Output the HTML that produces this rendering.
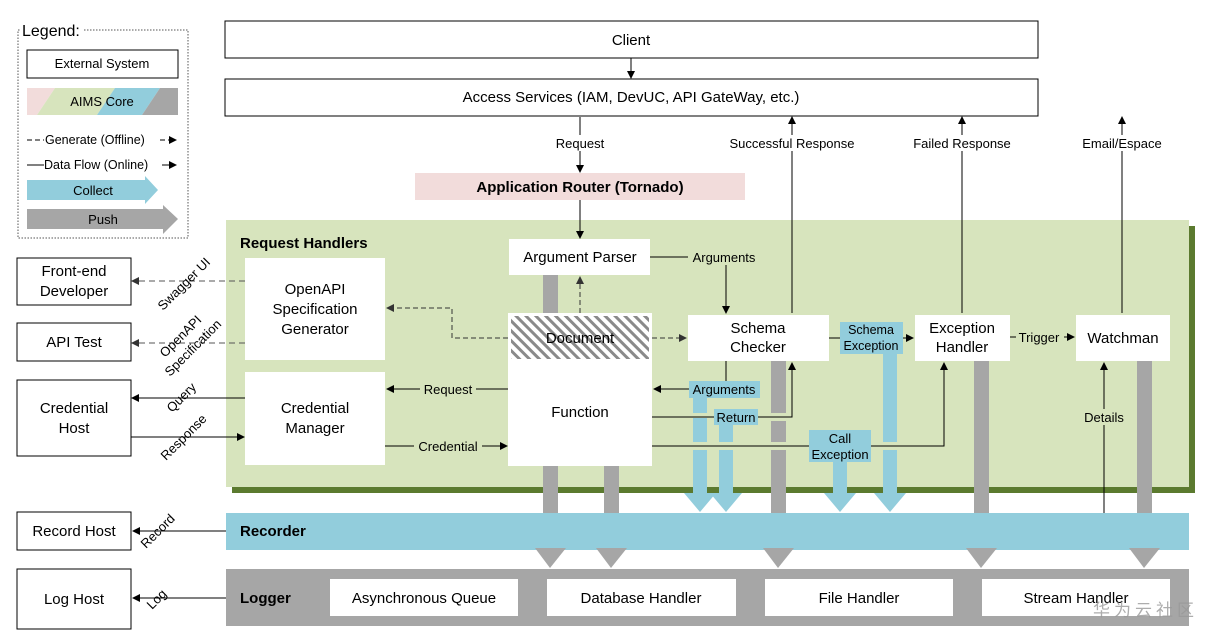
<!DOCTYPE html>
<html><head><meta charset="utf-8"><style>
html,body{margin:0;padding:0;background:#fff;}
svg{display:block;font-family:"Liberation Sans","Noto Sans CJK SC",sans-serif;}
</style></head><body>
<svg width="1213" height="635" viewBox="0 0 1213 635" xmlns="http://www.w3.org/2000/svg">
<defs>
<marker id="ah" markerWidth="8" markerHeight="8" refX="7" refY="4" orient="auto" markerUnits="userSpaceOnUse"><path d="M0,0 L8,4 L0,8 z" fill="#000"/></marker>
<marker id="ahg" markerWidth="8" markerHeight="8" refX="7" refY="4" orient="auto" markerUnits="userSpaceOnUse"><path d="M0,0 L8,4 L0,8 z" fill="#333"/></marker>
<pattern id="hatch" width="7" height="7" patternUnits="userSpaceOnUse" patternTransform="rotate(-45)"><rect width="7" height="7" fill="#fff"/><rect width="3" height="7" fill="#8a8a8a"/></pattern>
</defs>
<g font-size="14" fill="#000">
<!-- legend -->
<rect x="18" y="30" width="170" height="208" fill="none" stroke="#555" stroke-dasharray="1.5,1.5"/>
<rect x="20" y="22" width="64" height="16" fill="#fff"/>
<text x="22" y="36" font-size="16">Legend:</text>
<rect x="27" y="50" width="151" height="28" fill="#fff" stroke="#000"/>
<text x="102" y="68" text-anchor="middle" font-size="13">External System</text>
<polygon points="27,88 55,88 37,115 27,115" fill="#f2dcdb"/>
<polygon points="55,88 115,88 97,115 37,115" fill="#d7e4bd"/>
<polygon points="115,88 160,88 142,115 97,115" fill="#92cddc"/>
<polygon points="160,88 178,88 178,115 142,115" fill="#a6a6a6"/>
<text x="102" y="106" text-anchor="middle" font-size="13">AIMS Core</text>
<line x1="27" y1="140" x2="44" y2="140" stroke="#000" stroke-dasharray="5,3"/>
<text x="45" y="144" font-size="12.5">Generate (Offline)</text>
<line x1="160" y1="140" x2="176" y2="140" stroke="#000" stroke-dasharray="5,3" marker-end="url(#ah)"/>
<line x1="27" y1="165" x2="44" y2="165" stroke="#000"/>
<text x="44" y="169" font-size="12.5">Data Flow (Online)</text>
<line x1="162" y1="165" x2="176" y2="165" stroke="#000" marker-end="url(#ah)"/>
<polygon points="27,180 145,180 145,176 158,190 145,204 145,200 27,200" fill="#92cddc"/>
<text x="93" y="195" text-anchor="middle" font-size="13">Collect</text>
<polygon points="27,209 163,209 163,205 178,219 163,234 163,229 27,229" fill="#a6a6a6"/>
<text x="103" y="224" text-anchor="middle" font-size="13">Push</text>

<!-- top -->
<rect x="225" y="21" width="813" height="37" fill="#fff" stroke="#000"/>
<text x="631" y="45" text-anchor="middle" font-size="15">Client</text>
<line x1="631" y1="58" x2="631" y2="78" stroke="#000" marker-end="url(#ah)"/>
<rect x="225" y="79" width="813" height="37" fill="#fff" stroke="#000"/>
<text x="631" y="102" text-anchor="middle" font-size="15">Access Services (IAM, DevUC, API GateWay, etc.)</text>
<line x1="580" y1="117" x2="580" y2="172" stroke="#000" marker-end="url(#ah)"/>
<rect x="555" y="135" width="50" height="16" fill="#fff"/>
<text x="580" y="148" text-anchor="middle" font-size="13">Request</text>

<!-- green panel -->
<rect x="232" y="226" width="963" height="267" fill="#5b7a2f"/>
<rect x="226" y="220" width="963" height="267" fill="#d7e4bd"/>
<text x="240" y="248" font-size="15" font-weight="bold">Request Handlers</text>

<line x1="792" y1="313" x2="792" y2="117" stroke="#000" marker-end="url(#ah)"/>
<line x1="962" y1="313" x2="962" y2="117" stroke="#000" marker-end="url(#ah)"/>
<line x1="1122" y1="313" x2="1122" y2="117" stroke="#000" marker-end="url(#ah)"/>
<rect x="722" y="135" width="140" height="16" fill="#fff"/>
<text x="792" y="148" text-anchor="middle" font-size="13">Successful Response</text>
<rect x="908" y="135" width="108" height="16" fill="#fff"/>
<text x="962" y="148" text-anchor="middle" font-size="13">Failed Response</text>
<rect x="1078" y="135" width="90" height="16" fill="#fff"/>
<text x="1122" y="148" text-anchor="middle" font-size="13">Email/Espace</text>

<rect x="415" y="173" width="330" height="27" fill="#f2dcdb"/>
<text x="580" y="192" text-anchor="middle" font-size="15" font-weight="bold">Application Router (Tornado)</text>
<line x1="580" y1="200" x2="580" y2="238" stroke="#000" marker-end="url(#ah)"/>

<!-- gray push bars -->
<g fill="#a6a6a6">
<rect x="543" y="275" width="15" height="275"/>
<rect x="604" y="466" width="15" height="84"/>
<rect x="771" y="361" width="15" height="189"/>
<rect x="974" y="361" width="15" height="189"/>
<rect x="1137" y="361" width="15" height="189"/>
</g>
<!-- blue collect bars -->
<g fill="#92cddc">
<rect x="693" y="395" width="14" height="100"/><polygon points="684,493 716,493 700,512"/>
<rect x="719" y="420" width="14" height="75"/><polygon points="710,493 742,493 726,512"/>
<rect x="833" y="455" width="14" height="40"/><polygon points="824,493 856,493 840,512"/>
<rect x="883" y="350" width="14" height="145"/><polygon points="874,493 906,493 890,512"/>
</g>
<g fill="#d7e4bd">
<rect x="693" y="413" width="14" height="5"/>
<rect x="693" y="442" width="14" height="8"/>
<rect x="719" y="442" width="14" height="8"/>
<rect x="771" y="413" width="15" height="8"/>
<rect x="771" y="442" width="15" height="8"/>
<rect x="883" y="442" width="14" height="8"/>
</g>

<!-- boxes -->
<rect x="509" y="239" width="141" height="36" fill="#fff"/>
<text x="580" y="262" text-anchor="middle" font-size="15">Argument Parser</text>
<rect x="245" y="258" width="140" height="102" fill="#fff"/>
<text x="315" y="294" text-anchor="middle" font-size="15">OpenAPI</text>
<text x="315" y="314" text-anchor="middle" font-size="15">Specification</text>
<text x="315" y="334" text-anchor="middle" font-size="15">Generator</text>
<rect x="245" y="372" width="140" height="93" fill="#fff"/>
<text x="315" y="413" text-anchor="middle" font-size="15">Credential</text>
<text x="315" y="433" text-anchor="middle" font-size="15">Manager</text>
<rect x="508" y="313" width="144" height="153" fill="#fff"/>
<rect x="511" y="316" width="138" height="43" fill="url(#hatch)"/>
<text x="580" y="343" text-anchor="middle" font-size="15">Document</text>
<text x="580" y="417" text-anchor="middle" font-size="15">Function</text>
<rect x="688" y="315" width="141" height="46" fill="#fff"/>
<text x="758" y="333" text-anchor="middle" font-size="15">Schema</text>
<text x="758" y="352" text-anchor="middle" font-size="15">Checker</text>
<rect x="915" y="315" width="95" height="46" fill="#fff"/>
<text x="962" y="333" text-anchor="middle" font-size="15">Exception</text>
<text x="962" y="352" text-anchor="middle" font-size="15">Handler</text>
<rect x="1076" y="315" width="94" height="46" fill="#fff"/>
<text x="1123" y="343" text-anchor="middle" font-size="15">Watchman</text>

<!-- connectors -->
<polyline points="650,257 726,257 726,313" fill="none" stroke="#000" marker-end="url(#ah)"/>
<rect x="688" y="249" width="72" height="16" fill="#d7e4bd"/>
<text x="724" y="262" text-anchor="middle" font-size="13">Arguments</text>
<line x1="580" y1="313" x2="580" y2="277" stroke="#333" stroke-dasharray="5,3" marker-end="url(#ahg)"/>
<line x1="652" y1="338" x2="686" y2="338" stroke="#333" stroke-dasharray="5,3" marker-end="url(#ahg)"/>
<polyline points="508,338 452,338 452,308 387,308" fill="none" stroke="#333" stroke-dasharray="5,3" marker-end="url(#ahg)"/>
<line x1="245" y1="281" x2="132" y2="281" stroke="#555" stroke-dasharray="6,4" marker-end="url(#ahg)"/>
<line x1="245" y1="343" x2="132" y2="343" stroke="#555" stroke-dasharray="6,4" marker-end="url(#ahg)"/>
<line x1="508" y1="389" x2="387" y2="389" stroke="#000" marker-end="url(#ah)"/>
<rect x="420" y="381" width="56" height="16" fill="#d7e4bd"/>
<text x="448" y="394" text-anchor="middle" font-size="13">Request</text>
<line x1="385" y1="446" x2="507" y2="446" stroke="#000" marker-end="url(#ah)"/>
<rect x="414" y="438" width="68" height="16" fill="#d7e4bd"/>
<text x="448" y="451" text-anchor="middle" font-size="13">Credential</text>
<line x1="245" y1="398" x2="132" y2="398" stroke="#000" marker-end="url(#ah)"/>
<line x1="131" y1="437" x2="244" y2="437" stroke="#000" marker-end="url(#ah)"/>

<polyline points="726,361 726,389 654,389" fill="none" stroke="#000" marker-end="url(#ah)"/>
<rect x="689" y="381" width="71" height="17" fill="#92cddc"/>
<text x="724" y="394" text-anchor="middle" font-size="13">Arguments</text>
<polyline points="652,417 792,417 792,363" fill="none" stroke="#000" marker-end="url(#ah)"/>
<rect x="714" y="409" width="44" height="16" fill="#92cddc"/>
<text x="736" y="422" text-anchor="middle" font-size="13">Return</text>
<polyline points="652,446 944,446 944,363" fill="none" stroke="#000" marker-end="url(#ah)"/>
<rect x="809" y="430" width="62" height="32" fill="#92cddc"/>
<text x="840" y="443" text-anchor="middle" font-size="13">Call</text>
<text x="840" y="459" text-anchor="middle" font-size="13">Exception</text>
<line x1="829" y1="338" x2="913" y2="338" stroke="#000" marker-end="url(#ah)"/>
<rect x="840" y="322" width="63" height="32" fill="#92cddc"/>
<text x="871" y="334" text-anchor="middle" font-size="12.5">Schema</text>
<text x="871" y="350" text-anchor="middle" font-size="12.5">Exception</text>
<line x1="1010" y1="337" x2="1074" y2="337" stroke="#000" marker-end="url(#ah)"/>
<rect x="1016" y="329" width="48" height="16" fill="#d7e4bd"/>
<text x="1039" y="342" text-anchor="middle" font-size="13">Trigger</text>
<line x1="1104" y1="513" x2="1104" y2="363" stroke="#000" marker-end="url(#ah)"/>
<rect x="1080" y="409" width="50" height="16" fill="#d7e4bd"/>
<text x="1104" y="422" text-anchor="middle" font-size="13">Details</text>

<!-- external hosts -->
<rect x="17" y="258" width="114" height="47" fill="#fff" stroke="#000"/>
<text x="74" y="276" text-anchor="middle" font-size="15">Front-end</text>
<text x="74" y="296" text-anchor="middle" font-size="15">Developer</text>
<rect x="17" y="323" width="114" height="38" fill="#fff" stroke="#000"/>
<text x="74" y="347" text-anchor="middle" font-size="15">API Test</text>
<rect x="17" y="380" width="114" height="76" fill="#fff" stroke="#000"/>
<text x="74" y="413" text-anchor="middle" font-size="15">Credential</text>
<text x="74" y="433" text-anchor="middle" font-size="15">Host</text>
<rect x="17" y="512" width="114" height="38" fill="#fff" stroke="#000"/>
<text x="74" y="536" text-anchor="middle" font-size="15">Record Host</text>
<rect x="17" y="569" width="114" height="60" fill="#fff" stroke="#000"/>
<text x="74" y="604" text-anchor="middle" font-size="15">Log Host</text>

<!-- rotated labels -->
<g font-size="13">
<text transform="translate(163,311) rotate(-45)">Swagger UI</text>
<text transform="translate(165,358) rotate(-45)">OpenAPI</text>
<text transform="translate(170,377) rotate(-45)">Specification</text>
<text transform="translate(172,413) rotate(-45)">Query</text>
<text transform="translate(166,461) rotate(-45)">Response</text>
<text transform="translate(146,549) rotate(-45)">Record</text>
<text transform="translate(152,610) rotate(-45)">Log</text>
</g>

<!-- recorder / logger -->
<rect x="226" y="513" width="963" height="37" fill="#92cddc"/>
<text x="240" y="536" font-size="15" font-weight="bold">Recorder</text>
<line x1="226" y1="531" x2="133" y2="531" stroke="#000" marker-end="url(#ah)"/>
<rect x="226" y="569" width="963" height="57" fill="#a6a6a6"/>
<g fill="#a6a6a6">
<polygon points="535,548 566,548 550,568"/><polygon points="596,548 627,548 611,568"/><polygon points="763,548 794,548 778,568"/><polygon points="966,548 997,548 981,568"/><polygon points="1129,548 1160,548 1144,568"/>
</g>
<text x="240" y="603" font-size="15" font-weight="bold">Logger</text>
<line x1="226" y1="598" x2="133" y2="598" stroke="#000" marker-end="url(#ah)"/>
<rect x="330" y="579" width="188" height="37" fill="#fff"/>
<text x="424" y="603" text-anchor="middle" font-size="15">Asynchronous Queue</text>
<rect x="547" y="579" width="189" height="37" fill="#fff"/>
<text x="641" y="603" text-anchor="middle" font-size="15">Database Handler</text>
<rect x="765" y="579" width="188" height="37" fill="#fff"/>
<text x="859" y="603" text-anchor="middle" font-size="15">File Handler</text>
<rect x="982" y="579" width="188" height="37" fill="#fff"/>
<text x="1076" y="603" text-anchor="middle" font-size="15">Stream Handler</text>
<text x="1093" y="616" font-size="17" fill="#999" opacity="0.8" letter-spacing="4">华为云社区</text>
</g>
</svg>
</body></html>
